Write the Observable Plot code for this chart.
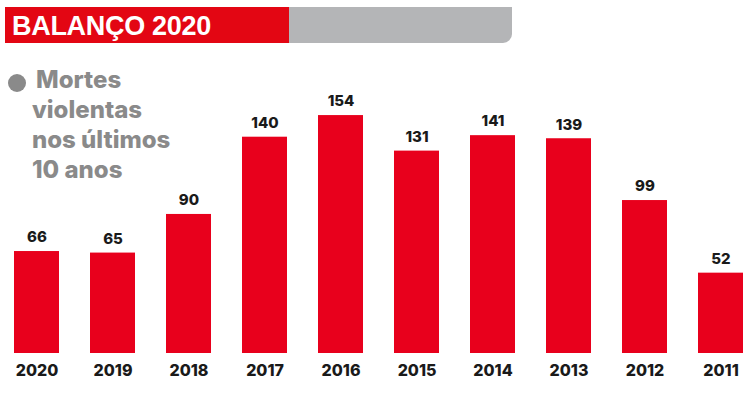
<!DOCTYPE html>
<html><head><meta charset="utf-8">
<script src="https://cdn.jsdelivr.net/npm/d3@7"></script>
<script src="https://cdn.jsdelivr.net/npm/@observablehq/plot@0.6"></script>
<style>
body{margin:0;background:#fff;}
#wrap{position:relative;width:750px;height:398px;overflow:hidden;font-family:Inter,"Noto Sans",sans-serif;}
#chart{position:absolute;left:0;top:0;}
#hred{position:absolute;left:5px;top:7px;width:284px;height:36px;background:#e30613;}
#hgrey{position:absolute;left:289px;top:7px;width:223px;height:36px;background:#b4b5b7;border-bottom-right-radius:9px;}
#title{position:absolute;left:12px;top:7px;height:36px;line-height:38px;color:#fff;font-family:"Liberation Sans",Arial,sans-serif;font-weight:700;font-size:27px;letter-spacing:-0.3px;}
#legend{position:absolute;left:32px;top:65px;color:#8a8a8a;font-weight:800;font-size:24px;line-height:30px;}
#dot{position:absolute;left:8px;top:74px;width:18px;height:18px;border-radius:50%;background:#8a8a8a;}
</style></head>
<body>
<div id="wrap">
<div id="chart"></div>
<div id="hred"></div><div id="hgrey"></div>
<div id="title">BALANÇO 2020</div>
<div id="dot"></div>
<div id="legend"><span style="margin-left:4px">Mortes</span><br>violentas<br>nos últimos<br>10 anos</div>
</div>
<script>
const years = ["2020","2019","2018","2017","2016","2015","2014","2013","2012","2011"];
const deaths = [66,65,90,140,154,131,141,139,99,52];
const data = years.map((y,i)=>({year:y, value:deaths[i]}));
const chart = Plot.plot({
  width:750, height:398,
  marginLeft:14, marginRight:7, marginTop:44, marginBottom:45,
  style:{fontFamily:"Inter, sans-serif", background:"transparent"},
  x:{domain:years, paddingInner:0.41, paddingOuter:0, label:null},
  y:{domain:[0,200], axis:null},
  marks:[
    Plot.barY(data,{x:"year", y:"value", fill:"#e8001c"}),
    Plot.text(data,{x:"year", y:"value", text:d=>String(d.value), dy:-14, fontSize:15, fontWeight:800, fill:"#1a1a1a"}),
    Plot.axisX({tickSize:0, tickPadding:11, fontSize:16, fontWeight:800, color:"#1a1a1a", label:null})
  ]
});
document.getElementById("chart").appendChild(chart);
</script>
</body></html>
